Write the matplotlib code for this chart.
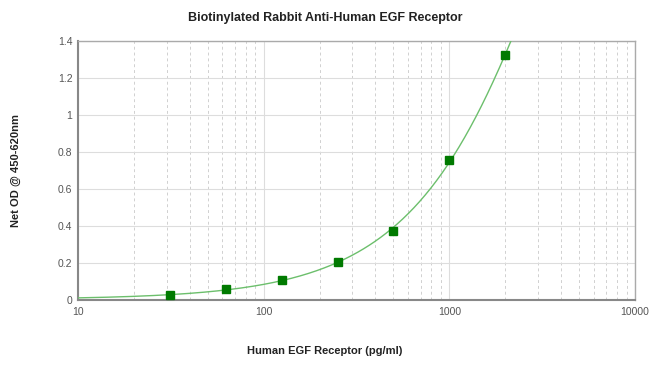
import numpy as np
import matplotlib
matplotlib.use("Agg")
import matplotlib.pyplot as plt
from matplotlib.ticker import FixedLocator, NullFormatter

conc = [31.25, 62.5, 125, 250, 500, 1000, 2000]
od = [0.028, 0.060, 0.107, 0.205, 0.373, 0.757, 1.325]
yticks = [0, 0.2, 0.4, 0.6, 0.8, 1.0, 1.2, 1.4]
ytick_labels = ["0", "0.2", "0.4", "0.6", "0.8", "1", "1.2", "1.4"]
xticks = [10, 100, 1000, 10000]
xtick_labels = ["10", "100", "1000", "10000"]

plt.rcParams['font.family'] = ['Liberation Sans', 'DejaVu Sans']

fig = plt.figure(figsize=(6.5, 3.75), dpi=100)
ax = fig.add_axes([0.12, 0.2, 0.857, 0.691])

# fitted curve (quadratic fit to data), drawn until it leaves the plot
coef = np.polyfit(conc, od, 2)
xs = np.logspace(1, np.log10(2600), 400)
ys = np.polyval(coef, xs)
ax.plot(xs, ys, color='#6cbf6c', lw=1.0, zorder=3)
ax.plot(conc, od, 's', color='#007a00', ms=6, zorder=4)

ax.set_xscale('log')
ax.set_xlim(10, 10000)
ax.set_ylim(0, 1.4)

ax.set_yticks(yticks)
ax.set_yticklabels(ytick_labels)
ax.set_xticks(xticks)
ax.set_xticklabels(xtick_labels)
ax.xaxis.set_minor_locator(FixedLocator([m * d for d in (10, 100, 1000) for m in range(2, 10)]))
ax.xaxis.set_minor_formatter(NullFormatter())

ax.tick_params(axis='both', which='both', length=0, labelsize=7.5, colors='#555555')
ax.tick_params(axis='x', pad=5)
ax.tick_params(axis='y', pad=4)

ax.grid(axis='y', which='major', color='#dddddd', lw=0.8, ls='-')
ax.grid(axis='x', which='major', color='#dddddd', lw=0.8, ls='-')
ax.grid(axis='x', which='minor', color='#d0d0d0', lw=0.7, ls=(0, (3, 3)))
ax.set_axisbelow(True)

for s in ('top', 'right'):
    ax.spines[s].set_color('#aaaaaa')
    ax.spines[s].set_linewidth(1.0)
for s in ('left', 'bottom'):
    ax.spines[s].set_color('#888888')
    ax.spines[s].set_linewidth(1.5)

fig.text(0.5, 0.952, "Biotinylated Rabbit Anti-Human EGF Receptor", ha='center', va='center',
         fontsize=9, fontweight='bold', color='#222222')
fig.text(0.5, 0.065, "Human EGF Receptor (pg/ml)", ha='center', va='center',
         fontsize=8, fontweight='bold', color='#222222')
fig.text(0.025, 0.545, "Net OD @ 450-620nm", ha='center', va='center', rotation=90,
         fontsize=8, fontweight='bold', color='#222222')

fig.savefig("out.png", dpi=100)
